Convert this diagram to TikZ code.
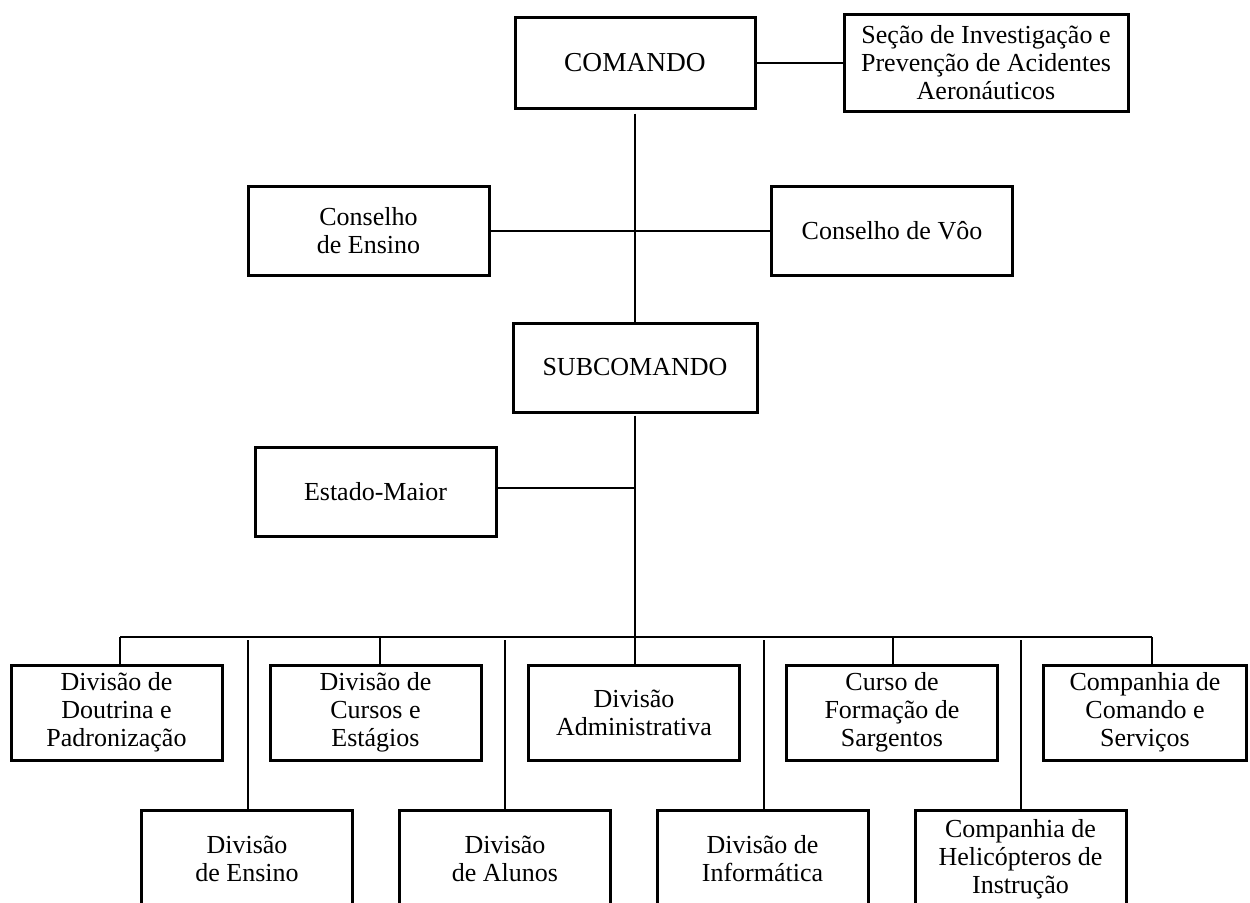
\documentclass[tikz,border=0pt]{standalone}
\usepackage{fontspec}
\setmainfont{Liberation Serif}
\begin{document}
\begin{tikzpicture}[x=0.5pt,y=-0.5pt,
  box/.style={draw, line width=1.5pt, rectangle, align=center, inner sep=0pt,
    font=\fontsize{13}{14}\selectfont},
  midbox/.style={box, minimum width=120.5pt, minimum height=44.5pt},
  rowbox/.style={box, minimum width=105.5pt, minimum height=47.5pt},
  lowbox/.style={box, minimum width=105.5pt, minimum height=49pt},
  conn/.style={line width=1pt}]
\clip (0,0) rectangle (1250,902);
\fill[white] (0,0) rectangle (1250,902);

% top level
\node[box, minimum width=120pt, minimum height=45.5pt, font=\fontsize{13.7}{14}\selectfont] (cmd) at (635,62.5) {COMANDO};
\node[box, minimum width=142pt, minimum height=48.5pt] (sip) at (986,62.5)
  {Seção de Investigação e\\Prevenção de Acidentes\\Aeronáuticos};
\node[midbox] (ce) at (368.5,230.5) {Conselho\\de Ensino};
\node[midbox] (cv) at (892,230.5) {Conselho de Vôo};
\node[box, minimum width=122pt, minimum height=44.5pt] (sub) at (635,367.5) {SUBCOMANDO};
\node[midbox] (em) at (375.5,492) {Estado-Maior};

% upper row
\node[rowbox] (u1) at (116.5,712.5) {Divisão de\\Doutrina e\\Padronização};
\node[rowbox] (u2) at (375.5,712.5) {Divisão de\\Cursos e\\Estágios};
\node[rowbox] (u3) at (634,712.5) {Divisão\\Administrativa};
\node[rowbox] (u4) at (892,712.5) {Curso de\\Formação de\\Sargentos};
\node[rowbox, minimum width=101.5pt] (u5) at (1145,712.5) {Companhia de\\Comando e\\Serviços};

% lower row
\node[lowbox] (l1) at (247,859) {Divisão\\de Ensino};
\node[lowbox] (l2) at (505,859) {Divisão\\de Alunos};
\node[lowbox] (l3) at (762.5,859) {Divisão de\\Informática};
\node[lowbox] (l4) at (1020.5,859) {Companhia de\\Helicópteros de\\Instrução};

% junction coordinates
\coordinate (jm) at (635,488);
\coordinate (bc) at (635,637);
\coordinate (d1) at (120,637);
\coordinate (d2) at (380,637);
\coordinate (d3) at (635,637);
\coordinate (d4) at (893,637);
\coordinate (d5) at (1152,637);
\coordinate (e1) at (248,637);
\coordinate (e2) at (505,637);
\coordinate (e3) at (764,637);
\coordinate (e4) at (1021,637);

% connectors
\draw[conn] (cmd.east) -- (sip.west);
\draw[conn, shorten <=2pt] (cmd.south) -- (sub.north);
\draw[conn] (ce.east) -- (cv.west);
\draw[conn, shorten <=1pt] (sub.south) -- (bc);
\draw[conn] (jm -| em.east) -- (jm);
\draw[conn] (d1) -- (d5);
\foreach \d/\b in {d1/u1,d2/u2,d3/u3,d4/u4,d5/u5}
  \draw[conn] (\d) -- (\d |- \b.north);
\foreach \e/\b in {e1/l1,e2/l2,e3/l3,e4/l4}
  \draw[conn, shorten <=1.5pt] (\e) -- (\e |- \b.north);
\end{tikzpicture}
\end{document}
